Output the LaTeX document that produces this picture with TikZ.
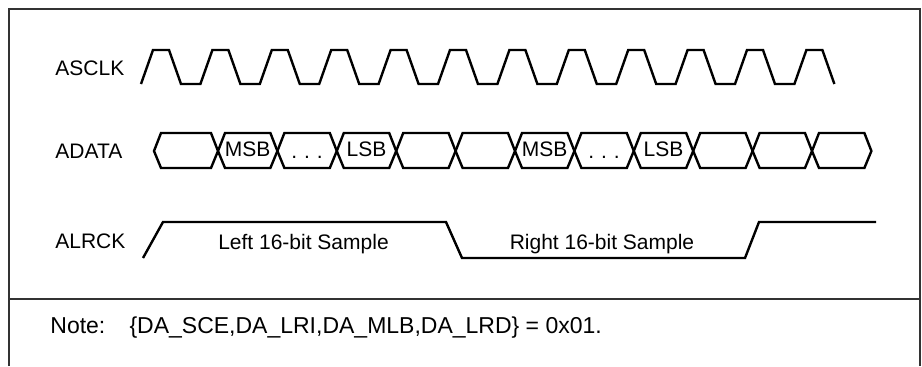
\documentclass[tikz,border=0pt]{standalone}
\usepackage{fontspec}
\setmainfont{Liberation Sans}
\usepackage{tikz}
\tikzset{signame/.style = {anchor = base west, inner sep = 0pt}}
\tikzset{celltext/.style = {anchor = base, inner sep = 0pt}}
\tikzset{wave/.style = {line width = 1.2pt, line join = miter}}
\tikzset{frame/.style = {line width = 0.6pt, draw = black!80}}

\begin{document}
\begin{tikzpicture}[x = 0.5pt, y = -0.5pt, every node/.style = {font = \fontsize{10.5}{12}\selectfont}]
	\useasboundingbox (0, 0) rectangle (922, 366);

	% frame and divider
	\draw[frame] (9, 366) -- (9, 9) -- (920, 9) -- (920, 366);
	\draw[frame] (9, 299) -- (920, 299);

	% signal names
	\node[signame] (asclk) at (55, 75) {ASCLK};
	\node[signame] (adata) at (55, 158) {ADATA};
	\node[signame] (alrck) at (55, 248) {ALRCK};

	% clock
	\draw[wave] (141, 84)
		\foreach \k in {1, ..., 11} { -- ++(12, -34) -- ++(16, 0) -- ++(12, 34) -- ++(19.4, 0) }
		-- ++(12, -34) -- ++(16, 0) -- ++(12, 34);

	% data cells
	\foreach \a/\b in {154/218, 218/277.4, 277.4/336.8, 336.8/396.2, 396.2/455.6, 455.6/515,
		515/574.4, 574.4/633.8, 633.8/693.2, 693.2/752.6, 752.6/812, 812/871.4}
		\draw[wave] (\a, 151) -- (\a + 7, 133) -- (\b - 7, 133) -- (\b, 151)
			-- (\b - 7, 168) -- (\a + 7, 168) -- cycle;

	\node[celltext] (msbA) at (247.7, 156) {MSB};
	\node[celltext] (dotsA) at (307.1, 158) {.\hspace{0.33em}.\hspace{0.33em}.};
	\node[celltext] (lsbA) at (366.5, 156) {LSB};
	\node[celltext] (msbB) at (544.7, 156) {MSB};
	\node[celltext] (dotsB) at (604.1, 158) {.\hspace{0.33em}.\hspace{0.33em}.};
	\node[celltext] (lsbB) at (663.5, 156) {LSB};

	% left/right clock
	\draw[wave] (143, 258) -- (163, 222) -- (446, 222) -- (462, 258)
		-- (745, 258) -- (759, 222) -- (876, 222);
	\node[celltext] (leftS) at (303.5, 249) {Left 16-bit Sample};
	\node[celltext] (rightS) at (602, 249) {Right 16-bit Sample};

	% note
	\node[signame, font = \fontsize{11.5}{14}\selectfont] (note) at (50, 333)
		{Note:\hspace{1.05em}\{DA\_SCE,DA\_LRI,DA\_MLB,DA\_LRD\} = 0x01.};
\end{tikzpicture}
\end{document}
